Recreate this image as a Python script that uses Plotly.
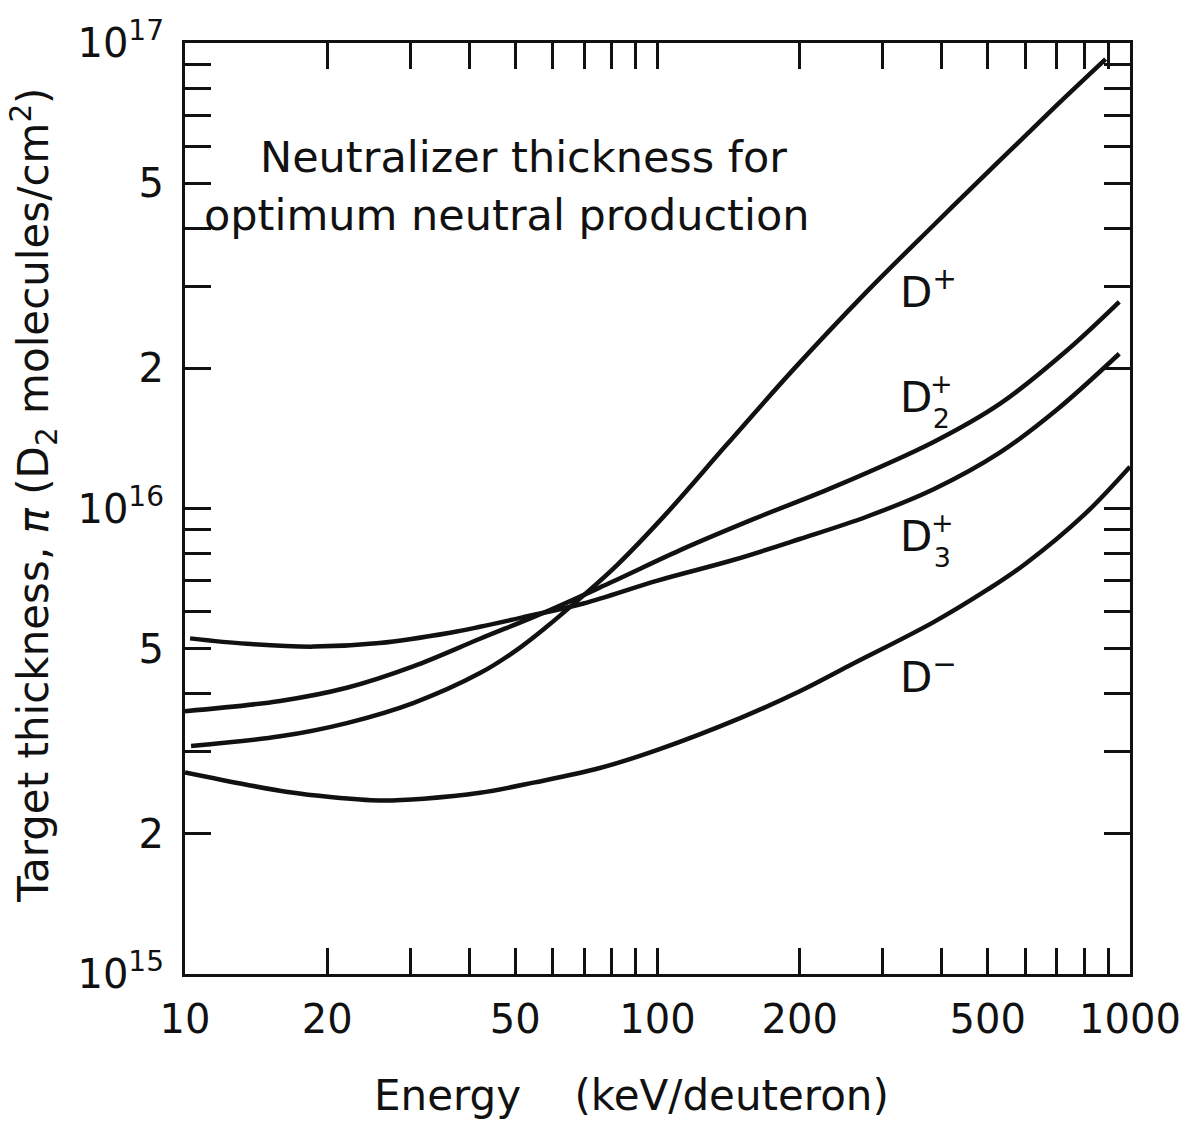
import plotly.graph_objects as go

# ---- data ----
dplus_E = [10.3, 15.9, 22, 30.4, 42.1, 50.4, 58, 66, 82, 104.4, 140, 194, 277, 384, 531, 700, 888]
dplus_T = [3.09e15, 3.24e15, 3.46e15, 3.82e15, 4.43e15, 4.97e15, 5.55e15, 6.2e15, 7.55e15, 9.75e15,
           1.37e16, 1.99e16, 2.92e16, 4.06e16, 5.6e16, 7.35e16, 9.23e16]

d2plus_E = [10, 15.9, 22, 30.4, 42.1, 59.2, 80, 113.5, 160, 235, 384, 531, 733, 949]
d2plus_T = [3.67e15, 3.86e15, 4.12e15, 4.58e15, 5.25e15, 6.05e15, 6.95e15, 8.2e15, 9.5e15,
            1.11e16, 1.39e16, 1.68e16, 2.18e16, 2.78e16]

d3plus_E = [10.25, 13.5, 18.7, 25.8, 36.4, 42.1, 52.8, 69.7, 100, 144.6, 200, 277, 384, 531, 700, 949]
d3plus_T = [5.26e15, 5.12e15, 5.05e15, 5.14e15, 5.41e15, 5.57e15, 5.86e15, 6.25e15, 7.0e15, 7.75e15,
            8.6e15, 9.6e15, 1.10e16, 1.32e16, 1.63e16, 2.15e16]

dminus_E = [10, 13.5, 16.5, 20.3, 25.8, 32, 42.1, 55, 75.5, 100, 150, 200, 255, 384, 500, 600, 800, 1000]
dminus_T = [2.71e15, 2.55e15, 2.46e15, 2.40e15, 2.36e15, 2.38e15, 2.45e15, 2.58e15, 2.77e15, 3.03e15,
            3.55e15, 4.05e15, 4.6e15, 5.7e15, 6.7e15, 7.6e15, 9.7e15, 1.23e16]

x_tickvals = [10, 20, 50, 100, 200, 500, 1000]
x_ticktext = ["10", "20", "50", "100", "200", "500", "1000"]
x_minor = [30, 40, 60, 70, 80, 90, 300, 400, 600, 700, 800, 900]

y_tickvals = [1e15, 2e15, 5e15, 1e16, 2e16, 5e16, 1e17]
y_ticktext = ["10<sup>15</sup>", "2", "5", "10<sup>16</sup>", "2", "5", "10<sup>17</sup>"]
y_minor = [3e15, 4e15, 6e15, 7e15, 8e15, 9e15, 3e16, 4e16, 6e16, 7e16, 8e16, 9e16]

FONT = "DejaVu Sans"
INK = "#111111"

fig = go.Figure()
for xs, ys in [(dplus_E, dplus_T), (d2plus_E, d2plus_T), (d3plus_E, d3plus_T), (dminus_E, dminus_T)]:
    fig.add_trace(go.Scatter(x=xs, y=ys, mode="lines",
                             line=dict(color=INK, width=4.5, shape="spline", smoothing=1.0),
                             showlegend=False, hoverinfo="skip"))

axis_common = dict(
    type="log", showgrid=False, zeroline=False, automargin=False,
    showline=True, linecolor=INK, linewidth=3, mirror="ticks",
    ticks="inside", ticklen=26, tickwidth=2.5, tickcolor=INK,
    tickfont=dict(family=FONT, size=40, color=INK),
)

fig.update_xaxes(**axis_common, range=[1, 3], tickmode="array",
                 tickvals=x_tickvals, ticktext=x_ticktext, ticklabelstandoff=8,
                 minor=dict(tickvals=x_minor, ticks="inside", ticklen=26, tickwidth=2.5, tickcolor=INK))
fig.update_yaxes(**axis_common, range=[15, 17], tickmode="array",
                 tickvals=y_tickvals, ticktext=y_ticktext, ticklabelstandoff=10,
                 minor=dict(tickvals=y_minor, ticks="inside", ticklen=26, tickwidth=2.5, tickcolor=INK))

def ann(text, x, y, size, **kw):
    fig.add_annotation(text=text, x=x, y=y, xref="paper", yref="paper", showarrow=False,
                       font=dict(family=FONT, size=size, color=INK), **kw)

# axis titles
ann("Energy&nbsp;&nbsp;&nbsp;&nbsp;(keV/deuteron)", 0.473, -0.130, 42, xanchor="center", yanchor="middle")
ann("Target thickness, <i>π</i> (D<sub>2</sub> molecules/cm<sup>2</sup>)", -0.160, 0.5145, 42,
    textangle=-90, xanchor="center", yanchor="middle")

# inner title
ann("Neutralizer thickness for", 0.3587, 0.8776, 43, xanchor="center", yanchor="middle")
ann("optimum neutral production", 0.3407, 0.8153, 43, xanchor="center", yanchor="middle")

# curve labels
ann("D<sup>+</sup>", 0.7545, 0.7347, 42, xanchor="left", yanchor="middle")
ann("D", 0.7545, 0.6187, 42, xanchor="left", yanchor="middle")
ann("+<br>2", 0.8000, 0.6150, 27, xanchor="center", yanchor="middle")
ann("D", 0.7545, 0.4694, 42, xanchor="left", yanchor="middle")
ann("+<br>3", 0.8021, 0.4660, 27, xanchor="center", yanchor="middle")
ann("D<sup>−</sup>", 0.7545, 0.3222, 42, xanchor="left", yanchor="middle")

fig.update_layout(
    width=1185, height=1122,
    margin=dict(l=185, r=55, t=43, b=148),
    paper_bgcolor="white", plot_bgcolor="white",
    font=dict(family=FONT, color=INK),
)

fig.write_html("out.html", config={"displayModeBar": False},
               post_script="document.body.style.margin='0px';")
